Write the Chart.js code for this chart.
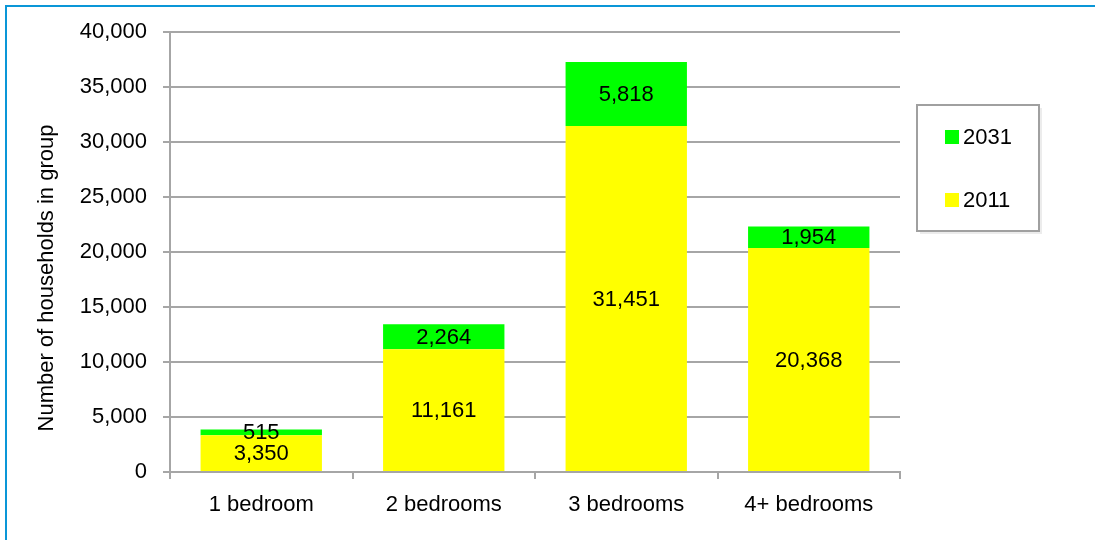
<!DOCTYPE html>
<html>
<head>
<meta charset="utf-8">
<script src="https://cdn.jsdelivr.net/npm/chart.js@4.4.1/dist/chart.umd.min.js"></script>
<style>
  html, body { margin: 0; padding: 0; background: #fff; }
  #wrap { width: 1095px; height: 540px; position: relative; }
</style>
</head>
<body>
<div id="wrap"><canvas id="chart"></canvas></div>
<script>
const categories = ['1 bedroom', '2 bedrooms', '3 bedrooms', '4+ bedrooms'];
const households2011 = [3350, 11161, 31451, 20368];
const extra2031 = [515, 2264, 5818, 1954];
const yTicks = [0, 5000, 10000, 15000, 20000, 25000, 30000, 35000, 40000];
const yTitle = 'Number of households in group';

const FONT = "'Liberation Sans', Arial, sans-serif";
const gridGrey = '#a6a6a6';

// blue frame on left and top like the original slide
const framePlugin = {
    id: 'frame',
    beforeDraw(chart) {
        const ctx = chart.ctx;
        ctx.save();
        ctx.fillStyle = '#ffffff';
        ctx.fillRect(0, 0, chart.width, chart.height);
        ctx.fillStyle = '#0a96d7';
        ctx.fillRect(5, 5, chart.width - 5, 2);
        ctx.fillRect(5, 5, 2, chart.height - 5);
        ctx.restore();
    },
    afterDraw(chart) {
        // rotated axis title, sits a bit lower than the plot centre
        const ctx = chart.ctx;
        ctx.save();
        ctx.translate(47, 278);
        ctx.rotate(-Math.PI / 2);
        ctx.font = '22px ' + FONT;
        ctx.fillStyle = '#000';
        ctx.textAlign = 'center';
        ctx.textBaseline = 'middle';
        ctx.fillText(yTitle, 0, 0);
        ctx.restore();
    }
};

// value labels in the middle of each segment
const segmentLabels = {
    id: 'segmentLabels',
    afterDatasetsDraw(chart) {
        const ctx = chart.ctx;
        ctx.save();
        ctx.font = '22px ' + FONT;
        ctx.fillStyle = '#000';
        ctx.textAlign = 'center';
        ctx.textBaseline = 'middle';
        chart.data.datasets.forEach((ds, i) => {
            chart.getDatasetMeta(i).data.forEach((bar, j) => {
                const p = bar.getProps(['x', 'y', 'base'], true);
                ctx.fillText(ds.data[j].toLocaleString('en-US'), p.x, (p.y + p.base) / 2 + 1);
            });
        });
        ctx.restore();
    }
};

// boxed legend on the right, 2031 on top
const boxLegend = {
    id: 'boxLegend',
    afterDraw(chart) {
        const ctx = chart.ctx;
        const x0 = 917, y0 = 105, w = 122, h = 126;
        ctx.save();
        ctx.fillStyle = '#ececec';
        ctx.fillRect(x0 + 3, y0 + 3, w, h);
        ctx.fillStyle = '#fff';
        ctx.fillRect(x0, y0, w, h);
        ctx.strokeStyle = '#a0a0a0';
        ctx.lineWidth = 2;
        ctx.strokeRect(x0, y0, w, h);
        ctx.font = '22px ' + FONT;
        ctx.textBaseline = 'middle';
        ctx.textAlign = 'left';
        const items = chart.data.datasets.slice().reverse();
        items.forEach((ds, k) => {
            const cy = 137 + k * 63;
            ctx.fillStyle = ds.backgroundColor;
            ctx.fillRect(945, cy - 7, 14, 14);
            ctx.fillStyle = '#000';
            ctx.fillText(ds.label, 963, cy + 1);
        });
        ctx.restore();
    }
};

new Chart(document.getElementById('chart'), {
    type: 'bar',
    data: {
        labels: categories,
        datasets: [
            { label: '2011', data: households2011, backgroundColor: '#ffff00' },
            { label: '2031', data: extra2031, backgroundColor: '#00ff00' }
        ]
    },
    options: {
        responsive: true,
        maintainAspectRatio: false,
        animation: false,
        devicePixelRatio: 1,
        layout: { padding: { left: 0, right: 195, top: 32, bottom: 0 } },
        datasets: { bar: { barPercentage: 1, categoryPercentage: 0.665, borderWidth: 0 } },
        plugins: {
            legend: { display: false },
            tooltip: { enabled: false }
        },
        scales: {
            x: {
                stacked: true,
                offset: true,
                grid: {
                    offset: true,
                    drawOnChartArea: false,
                    drawTicks: true,
                    tickLength: 7,
                    color: gridGrey,
                    lineWidth: 2
                },
                border: { color: gridGrey, width: 2 },
                ticks: { color: '#000', font: { family: FONT, size: 22 }, padding: 13 },
                afterFit(scale) { scale.height = 68; }
            },
            y: {
                stacked: true,
                min: 0,
                max: 40000,
                afterBuildTicks(scale) { scale.ticks = yTicks.map(v => ({ value: v })); },
                grid: { color: gridGrey, lineWidth: 2, tickLength: 7 },
                border: { color: gridGrey, width: 2 },
                ticks: {
                    color: '#000',
                    font: { family: FONT, size: 22 },
                    padding: 16,
                    callback: v => v.toLocaleString('en-US')
                },
                afterFit(scale) { scale.width = 170; }
            }
        }
    },
    plugins: [framePlugin, segmentLabels, boxLegend]
});
</script>
</body>
</html>
